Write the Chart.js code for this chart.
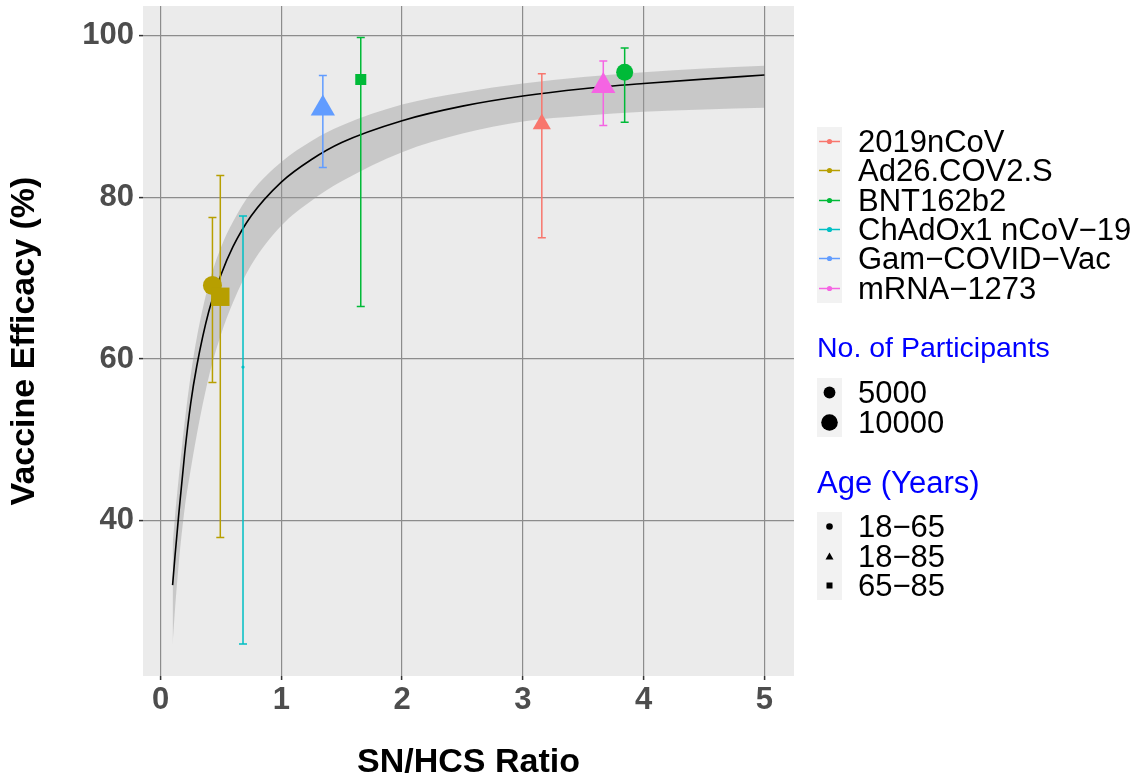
<!DOCTYPE html>
<html>
<head>
<meta charset="utf-8">
<script src="https://cdn.jsdelivr.net/npm/chart.js@4.4.0/dist/chart.umd.min.js"></script>
<style>
  body { margin: 0; background: #fff; }
  #wrap { position: relative; width: 1148px; height: 780px; font-family: "Liberation Sans", Arial, sans-serif; }
  canvas { position: absolute; left: 0; top: 0; }
  .lg { position: absolute; left: 817px; }
  .lg .title { color: #0000ff; font-size: 29px; line-height: 30px; white-space: nowrap; }
  .lg .row { display: flex; align-items: center; height: 29.3px; }
  .lg .key { width: 25px; height: 100%; background: #f2f2f2; display: flex; align-items: center; justify-content: center; }
  .lg .lab { margin-left: 16px; font-size: 31px; line-height: 29px; color: #000; white-space: nowrap; }
</style>
</head>
<body>
<div id="wrap">
  <canvas id="chart" width="1148" height="780"></canvas>
  <div class="lg" id="legVaccine" style="top:127px"></div>
  <div class="lg" style="top:332px"><div class="title" style="font-size:28.5px">No. of Participants</div></div>
  <div class="lg" id="legSize" style="top:378px"></div>
  <div class="lg" style="top:468px"><div class="title" style="font-size:31px">Age (Years)</div></div>
  <div class="lg" id="legAge" style="top:512px"></div>
</div>
<script>
// vaccines and their colours
const vaccines = ["2019nCoV", "Ad26.COV2.S", "BNT162b2", "ChAdOx1 nCoV\u221219", "Gam\u2212COVID\u2212Vac", "mRNA\u22121273"];
const vaccineColors = ["#F8766D", "#B79F00", "#00BA38", "#00BFC4", "#619CFF", "#F564E3"];
const ageLevels = ["18\u221265", "18\u221285", "65\u221285"];
const sizeBreaks = ["5000", "10000"];

// trial points
const ptVaccine = [1, 1, 3, 4, 2, 0, 5, 2];
const ptRatio = [0.43, 0.495, 0.683, 1.344, 1.658, 3.157, 3.666, 3.843];
const ptEfficacy = [69.1, 67.7, 59.0, 91.0, 94.6, 89.1, 93.8, 95.5];
const ptLower = [57.1, 37.9, 24.7, 83.7, 66.5, 75.0, 88.9, 89.3];
const ptUpper = [77.5, 82.7, 77.7, 95.1, 99.8, 95.3, 96.9, 98.5];
const ptAge = [0, 2, 0, 1, 2, 1, 1, 0];

// fitted curve and its confidence band
const fitRatio = [0.1, 0.12, 0.15, 0.2, 0.25, 0.3, 0.4, 0.5, 0.6, 0.75, 1, 1.25, 1.5, 2, 2.5, 3, 3.5, 4, 4.5, 5];
const fitEfficacy = [32.0, 35.6, 40.6, 48.3, 54.5, 59.1, 65.9, 70.4, 73.9, 77.7, 81.9, 84.7, 86.8, 89.5, 91.3, 92.55, 93.45, 94.1, 94.65, 95.15];
const fitUpper = [37.0, 40.5, 45.2, 52.2, 58.0, 62.6, 69.3, 73.8, 77.0, 80.6, 84.4, 87.0, 88.9, 91.5, 93.0, 94.1, 94.9, 95.5, 95.95, 96.3];
const fitLower = [24.6, 29.0, 34.5, 41.5, 46.3, 50.6, 57.8, 63.0, 67.0, 71.6, 76.5, 79.6, 82.0, 85.6, 87.9, 89.4, 90.1, 90.6, 90.9, 91.1];

const xTicks = [0, 1, 2, 3, 4, 5];
const yTicks = [40, 60, 80, 100];

// styles
const ageShapes = ["circle", "triangle", "rect"];
const markerRadius = [9.5, 13, 1.6, 14, 7.8, 10.5, 14, 8.5];

const xy = (xs, ys) => xs.map((v, i) => ({ x: v, y: ys[i] }));

const pointSets = vaccines.map((name, v) => {
  const idx = ptVaccine.map((p, i) => p === v ? i : -1).filter(i => i >= 0);
  return {
    label: name,
    data: idx.map(i => ({ x: ptRatio[i], y: ptEfficacy[i] })),
    pointStyle: idx.map(i => ageShapes[ptAge[i]]),
    pointRadius: idx.map(i => markerRadius[i]),
    backgroundColor: vaccineColors[v],
    borderWidth: 0,
    order: 0
  };
});

const FIT_INDEX = pointSets.length;

const datasets = pointSets.concat([
  { type: "line", data: xy(fitRatio, fitEfficacy), showLine: true, borderColor: "#000", borderWidth: 1.6,
    pointRadius: 0, cubicInterpolationMode: "monotone", fill: false, order: 1 },
  { type: "line", data: xy(fitRatio, fitLower), showLine: true, borderWidth: 0, borderColor: "rgba(0,0,0,0)",
    pointRadius: 0, cubicInterpolationMode: "monotone", fill: false, order: 2 },
  { type: "line", data: xy(fitRatio, fitUpper), showLine: true, borderWidth: 0, borderColor: "rgba(0,0,0,0)",
    pointRadius: 0, cubicInterpolationMode: "monotone", fill: "-1", backgroundColor: "rgba(153,153,153,0.42)", order: 2 }
]);

const panelBg = {
  id: "panelBg",
  beforeDraw(chart) {
    const a = chart.chartArea, ctx = chart.ctx;
    ctx.save();
    ctx.fillStyle = "#EBEBEB";
    ctx.fillRect(a.left, a.top, a.right - a.left, a.bottom - a.top);
    ctx.restore();
  }
};

const errorBars = {
  id: "errorBars",
  afterDatasetDraw(chart, args) {
    if (args.index !== FIT_INDEX) return;
    const ctx = chart.ctx, x = chart.scales.x, y = chart.scales.y;
    ctx.save();
    ctx.lineWidth = 1.5;
    ptRatio.forEach((r, i) => {
      const px = x.getPixelForValue(r);
      const top = y.getPixelForValue(ptUpper[i]);
      const bot = y.getPixelForValue(ptLower[i]);
      ctx.strokeStyle = vaccineColors[ptVaccine[i]];
      ctx.beginPath();
      ctx.moveTo(px, top); ctx.lineTo(px, bot);
      ctx.moveTo(px - 4, top); ctx.lineTo(px + 4, top);
      ctx.moveTo(px - 4, bot); ctx.lineTo(px + 4, bot);
      ctx.stroke();
    });
    ctx.restore();
  }
};

const noPad = s => { s.paddingTop = 0; s.paddingBottom = 0; s.paddingLeft = 0; s.paddingRight = 0; };
const tickFont = { family: "'Liberation Sans', Arial, sans-serif", size: 31, weight: "bold" };
const titleFont = { family: "'Liberation Sans', Arial, sans-serif", size: 34, weight: "bold", lineHeight: 1 };

new Chart(document.getElementById("chart"), {
  type: "scatter",
  data: { datasets },
  plugins: [panelBg, errorBars],
  options: {
    responsive: false,
    animation: false,
    layout: { autoPadding: false, padding: { left: 0, top: 6, right: 354, bottom: 0 } },
    plugins: { legend: { display: false }, tooltip: { enabled: false } },
    scales: {
      x: {
        type: "linear", min: -0.145, max: 5.245,
        afterBuildTicks: s => { s.ticks = xTicks.map(v => ({ value: v })); },
        afterFit: s => { s.height = 104; noPad(s); },
        grid: { color: "#8C8C8C", lineWidth: 1.2, tickLength: 4, tickColor: "#333", tickWidth: 1.5 },
        border: { display: false },
        ticks: { font: tickFont, color: "#4D4D4D", padding: 2, maxRotation: 0 },
        title: { display: true, text: "SN/HCS Ratio", font: titleFont, color: "#000", padding: { top: 0, bottom: 0 } }
      },
      y: {
        type: "linear", min: 20.75, max: 103.7,
        afterBuildTicks: s => { s.ticks = yTicks.map(v => ({ value: v })); },
        afterFit: s => { s.width = 143; noPad(s); },
        grid: { color: "#8C8C8C", lineWidth: 1.2, tickLength: 4, tickColor: "#333", tickWidth: 1.5 },
        border: { display: false },
        ticks: { font: tickFont, color: "#4D4D4D", padding: 5 },
        title: { display: true, text: "Vaccine Efficacy (%)", font: titleFont, color: "#000", padding: { top: 8, bottom: 0 } }
      }
    }
  }
});

// legends
const svgKey = inner => '<svg width="25" height="29" viewBox="0 0 25 29">' + inner + '</svg>';
document.getElementById("legVaccine").innerHTML = vaccines.map((name, i) =>
  '<div class="row"><div class="key">' +
  svgKey('<line x1="2" y1="14.5" x2="23" y2="14.5" stroke="' + vaccineColors[i] + '" stroke-width="1.5"/>' +
         '<circle cx="12.5" cy="14.5" r="2.6" fill="' + vaccineColors[i] + '"/>') +
  '</div><div class="lab">' + name + '</div></div>').join("");

const sizeKeyRadius = [5.9, 8.3];
document.getElementById("legSize").innerHTML = sizeBreaks.map((b, i) =>
  '<div class="row" style="height:29.5px"><div class="key">' +
  svgKey('<circle cx="12.5" cy="14.5" r="' + sizeKeyRadius[i] + '" fill="#000"/>') +
  '</div><div class="lab">' + b + '</div></div>').join("");

const ageKeys = [
  '<circle cx="12.5" cy="14.5" r="3.3" fill="#000"/>',
  '<polygon points="12.5,10.5 16.5,17.5 8.5,17.5" fill="#000"/>',
  '<rect x="9.5" y="11.5" width="6" height="6" fill="#000"/>'
];
document.getElementById("legAge").innerHTML = ageLevels.map((a, i) =>
  '<div class="row" style="height:29.4px"><div class="key">' + svgKey(ageKeys[i]) +
  '</div><div class="lab">' + a + '</div></div>').join("");
</script>
</body>
</html>
